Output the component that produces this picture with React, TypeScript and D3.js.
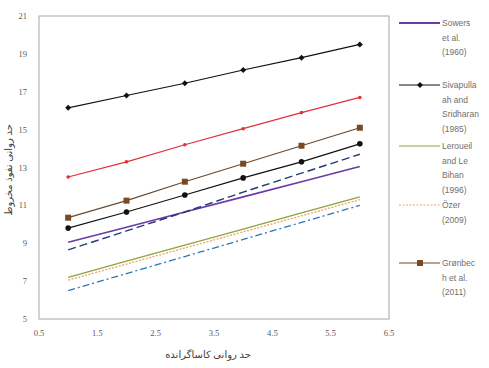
import React from "react";
import * as d3 from "d3";

// Casagrande LL (x) vs fall-cone LL (y) correlations
const xValues = [1, 2, 3, 4, 5, 6];
const sowers = [9.05, 9.85, 10.65, 11.45, 12.25, 13.05];
const sivapullaiah = [16.15, 16.8, 17.45, 18.15, 18.8, 19.5];
const leroueil = [7.2, 8.05, 8.9, 9.75, 10.6, 11.45];
const ozer = [7.05, 7.9, 8.75, 9.6, 10.45, 11.3];
const gronbech = [10.35, 11.25, 12.25, 13.2, 14.15, 15.1];
const redSeries = [12.5, 13.3, 14.2, 15.05, 15.9, 16.7];
const circleSeries = [9.8, 10.65, 11.55, 12.45, 13.3, 14.25];
const navyDashed = [8.65, 9.65, 10.65, 11.7, 12.7, 13.7];
const blueDashDot = [6.5, 7.4, 8.3, 9.2, 10.1, 11.0];

const xTicks = [0.5, 1.5, 2.5, 3.5, 4.5, 5.5, 6.5];
const yTicks = [5, 7, 9, 11, 13, 15, 17, 19, 21];

const xTitle = "حد روانی کاساگرانده";
const yTitle = "حد روانی نفوذ مخروط";

type Series = {
  name: string;
  values: number[];
  color: string;
  width: number;
  dash?: string;
  marker?: "diamond" | "circle" | "square" | "dot";
};

const series: Series[] = [
  { name: "blueDashDot", values: blueDashDot, color: "#2e75b6", width: 1.3, dash: "7 3 2 3" },
  { name: "ozer", values: ozer, color: "#e9a46a", width: 1.3, dash: "2 1.5" },
  { name: "leroueil", values: leroueil, color: "#8fa33a", width: 1.3 },
  { name: "sowers", values: sowers, color: "#6a3aa8", width: 1.6 },
  { name: "navyDashed", values: navyDashed, color: "#1f3b73", width: 1.4, dash: "8 4" },
  { name: "circles", values: circleSeries, color: "#111", width: 1.2, marker: "circle" },
  { name: "gronbech", values: gronbech, color: "#6b4a2e", width: 1.2, marker: "square" },
  { name: "red", values: redSeries, color: "#e0303a", width: 1.2, marker: "dot" },
  { name: "sivapullaiah", values: sivapullaiah, color: "#111", width: 1.2, marker: "diamond" },
];

const legend = [
  { lines: ["Sowers", "et al.", "(1960)"], color: "#6a3aa8", width: 2, marker: undefined, dash: undefined, y: 23 },
  { lines: ["Sivapulla", "ah and", "Sridharan", "(1985)"], color: "#111", width: 1.2, marker: "diamond", dash: undefined, y: 85 },
  { lines: ["Leroueil", "and Le", "Bihan", "(1996)"], color: "#8fa33a", width: 1.2, marker: undefined, dash: undefined, y: 146 },
  { lines: ["Özer", "(2009)"], color: "#e9a46a", width: 1.2, marker: undefined, dash: "2 1.5", y: 205 },
  { lines: ["Grønbec", "h et al.", "(2011)"], color: "#6b4a2e", width: 1.2, marker: "square", dash: undefined, y: 263 },
];

function Marker({ kind, x, y, color }: { kind?: string; x: number; y: number; color: string }) {
  if (kind === "diamond") {
    return <path d={`M${x},${y - 3}L${x + 3},${y}L${x},${y + 3}L${x - 3},${y}Z`} fill={color} />;
  }
  if (kind === "circle") return <circle cx={x} cy={y} r={2.8} fill={color} />;
  if (kind === "square") return <rect x={x - 3} y={y - 3} width={6} height={6} fill="#7a4a25" />;
  if (kind === "dot") return <circle cx={x} cy={y} r={1.8} fill={color} />;
  return null;
}

export default function App() {
  const width = 489;
  const height = 368;
  const x = d3.scaleLinear().domain([0.5, 6.5]).range([39, 389]);
  const y = d3.scaleLinear().domain([5, 21]).range([319, 16]);
  const line = d3
    .line<number>()
    .x((_, i) => x(xValues[i]))
    .y((d) => y(d));
  const textColor = "#595959";
  const font = "'Liberation Sans', Arial, sans-serif";
  const tickFont = "'Liberation Serif', 'DejaVu Serif', serif";

  return (
    <svg
      width={width}
      height={height}
      style={{ position: "absolute", left: 0, top: 0, background: "#fff" }}
    >
      <rect
        x={x(0.5)}
        y={y(21)}
        width={x(6.5) - x(0.5)}
        height={y(5) - y(21)}
        fill="none"
        stroke="#a6a6a6"
        strokeWidth={1}
      />
      {series.map((s) => (
        <g key={s.name}>
          <path
            d={line(s.values) ?? ""}
            fill="none"
            stroke={s.color}
            strokeWidth={s.width}
            strokeDasharray={s.dash}
          />
          {s.marker &&
            s.values.map((v, i) => (
              <Marker key={i} kind={s.marker} x={x(xValues[i])} y={y(v)} color={s.color} />
            ))}
        </g>
      ))}
      {yTicks.map((t) => (
        <text
          key={t}
          x={27}
          y={y(t) + 3}
          textAnchor="end"
          fontSize={8.5}
          fontFamily={tickFont}
          fill={textColor}
        >
          {t}
        </text>
      ))}
      {xTicks.map((t) => (
        <text
          key={t}
          x={x(t)}
          y={336}
          textAnchor="middle"
          fontSize={8.5}
          fontFamily={tickFont}
          fill={textColor}
        >
          {d3.format(".1f")(t)}
        </text>
      ))}
      <text
        x={208}
        y={358}
        textAnchor="middle"
        fontSize={10}
        fontFamily="'Noto Sans', 'DejaVu Sans', sans-serif"
        fill="#404040"
        direction="rtl"
      >
        {xTitle}
      </text>
      <text
        transform={`translate(12, 170) rotate(-90)`}
        textAnchor="middle"
        fontSize={10}
        fontFamily="'Noto Sans', 'DejaVu Sans', sans-serif"
        fill="#404040"
        direction="rtl"
      >
        {yTitle}
      </text>
      {legend.map((l) => (
        <g key={l.lines[0]}>
          <line
            x1={399}
            x2={440}
            y1={l.y}
            y2={l.y}
            stroke={l.color}
            strokeWidth={l.width}
            strokeDasharray={l.dash}
          />
          <Marker kind={l.marker} x={420} y={l.y} color={l.color} />
          {l.lines.map((t, i) => (
            <text
              key={i}
              x={442}
              y={l.y + 3 + i * 14.5}
              fontSize={8.5}
              fontFamily={font}
              fill="#6f6f6f"
            >
              {t}
            </text>
          ))}
        </g>
      ))}
    </svg>
  );
}
